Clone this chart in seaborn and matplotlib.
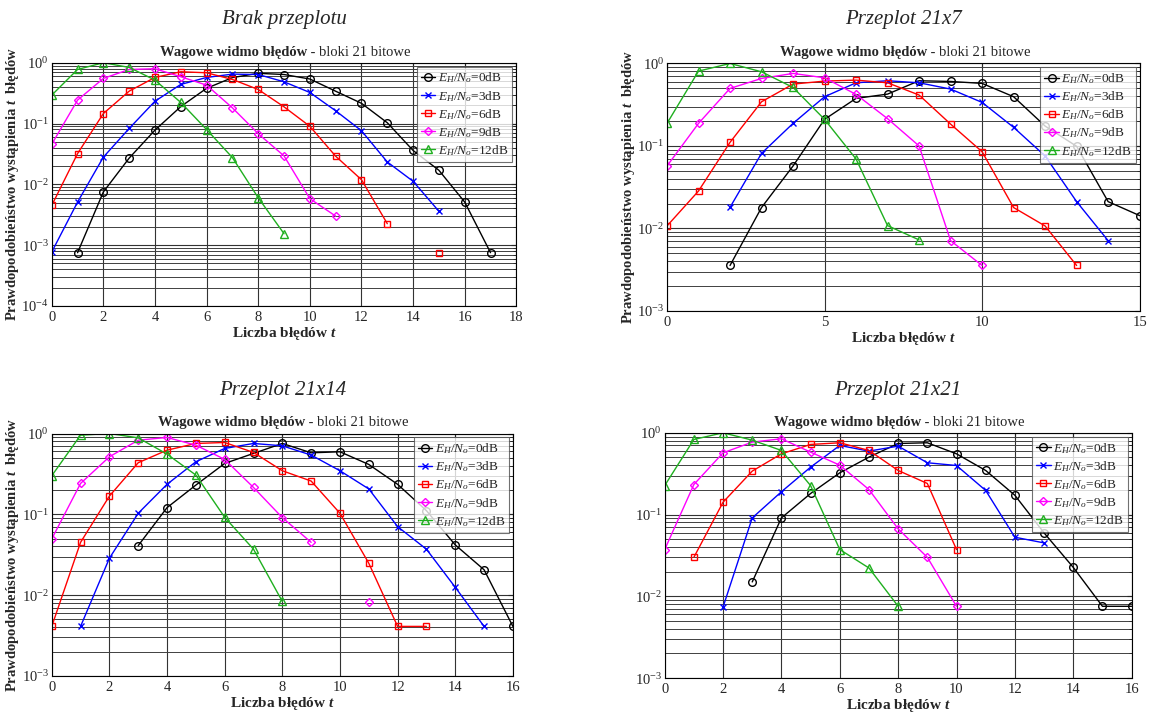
import numpy as np
import pandas as pd
import seaborn as sns
import matplotlib.pyplot as plt
from matplotlib.lines import Line2D

nan = np.nan

# SNR labels (E_H/N_o) used as series names
snr_labels = ['0dB', '3dB', '6dB', '9dB', '12dB']

# Brak przeplotu
p1_t = list(range(18))
p1_0dB = [nan, 7.5e-4, 7.5e-3, 0.027, 0.078, 0.19, 0.38, 0.57, 0.67, 0.64, 0.54, 0.34, 0.215, 0.103, 0.036, 0.017, 0.0051, 7.5e-4]
p1_3dB = [7.7e-4, 0.0051, 0.028, 0.083, 0.233, 0.44, 0.573, 0.65, 0.64, 0.486, 0.324, 0.162, 0.076, 0.0233, 0.0112, 0.0036, nan, nan]
p1_6dB = [0.0045, 0.032, 0.146, 0.341, 0.573, 0.711, 0.684, 0.531, 0.363, 0.188, 0.09, 0.029, 0.0119, 0.00225, nan, 7.5e-4, nan, nan]
p1_9dB = [0.0457, 0.243, 0.552, 0.776, 0.796, 0.588, 0.428, 0.181, 0.068, 0.0293, 0.0058, 0.003, nan, nan, nan, nan, nan, nan]
p1_12dB = [0.293, 0.776, 1.0, 0.838, 0.518, 0.222, 0.0796, 0.0275, 0.006, 0.00154, nan, nan, nan, nan, nan, nan, nan, nan]

# Przeplot 21x7
p2_t = list(range(16))
p2_0dB = [nan, nan, 0.00355, 0.0179, 0.0571, 0.21, 0.377, 0.425, 0.617, 0.605, 0.573, 0.395, 0.174, 0.099, 0.0211, 0.0143]
p2_3dB = [nan, nan, 0.018, 0.0813, 0.1876, 0.395, 0.583, 0.617, 0.583, 0.489, 0.337, 0.168, 0.0755, 0.0211, 0.0071, nan]
p2_6dB = [0.0107, 0.0284, 0.1105, 0.343, 0.562, 0.611, 0.628, 0.583, 0.414, 0.184, 0.085, 0.0179, 0.0107, 0.00355, nan, nan]
p2_9dB = [0.0571, 0.1876, 0.498, 0.658, 0.757, 0.67, 0.421, 0.214, 0.1, 0.0071, 0.00355, nan, nan, nan, nan, nan]
p2_12dB = [0.1876, 0.807, 1.0, 0.792, 0.512, 0.21, 0.0694, 0.0108, 0.00725, nan, nan, nan, nan, nan, nan, nan]

# Przeplot 21x14
p3_t = list(range(17))
p3_0dB = [nan, nan, nan, 0.041, 0.121, 0.23, 0.426, 0.567, 0.753, 0.577, 0.594, 0.414, 0.235, 0.111, 0.0418, 0.0206, 0.0041]
p3_3dB = [nan, 0.0041, 0.0286, 0.103, 0.235, 0.447, 0.653, 0.753, 0.704, 0.541, 0.346, 0.206, 0.0704, 0.037, 0.0125, 0.0041, nan]
p3_6dB = [0.0041, 0.045, 0.168, 0.435, 0.622, 0.753, 0.774, 0.583, 0.346, 0.258, 0.103, 0.0248, 0.0041, 0.0041, nan, nan, nan]
p3_9dB = [0.0496, 0.241, 0.515, 0.827, 0.893, 0.718, 0.478, 0.215, 0.091, 0.045, nan, 0.0082, nan, nan, nan, nan, nan]
p3_12dB = [0.3, 0.954, 1.0, 0.884, 0.556, 0.306, 0.0918, 0.037, 0.00835, nan, nan, nan, nan, nan, nan, nan, nan]

# Przeplot 21x21
p4_t = list(range(17))
p4_0dB = [nan, nan, nan, 0.015, 0.091, 0.181, 0.324, 0.504, 0.74, 0.755, 0.553, 0.346, 0.172, 0.0597, 0.0226, 0.00755, 0.00755]
p4_3dB = [nan, nan, 0.0074, 0.091, 0.19, 0.38, 0.7, 0.597, 0.687, 0.43, 0.398, 0.197, 0.0528, 0.045, nan, nan, nan]
p4_6dB = [nan, 0.03, 0.1416, 0.34, 0.553, 0.72, 0.755, 0.608, 0.346, 0.24, 0.0373, nan, nan, nan, nan, nan, nan]
p4_9dB = [0.0373, 0.233, 0.569, 0.769, 0.845, 0.58, 0.402, 0.202, 0.0668, 0.03, 0.00755, nan, nan, nan, nan, nan, nan]
p4_12dB = [0.226, 0.829, 1.0, 0.813, 0.608, 0.226, 0.0373, 0.0222, 0.00755, nan, nan, nan, nan, nan, nan, nan, nan]

colors = ['black', '#0000ff', '#ff0000', '#ff00ff', '#1faf1f']
markers = ['o', 'x', 's', 'D', '^']
msizes = [5.5, 5, 5, 4.5, 5.5]


def to_frame(t, series):
    # long-form table; a new segment starts after every gap so lines break there
    rows = []
    seg = 0
    for lab, vals in zip(snr_labels, series):
        seg += 1
        for ti, v in zip(t, vals):
            if np.isnan(v):
                seg += 1
                continue
            rows.append((ti, v, lab, seg))
    return pd.DataFrame(rows, columns=['t', 'p', 'snr', 'seg'])


sns.set_style('white')
plt.rcParams['font.family'] = ['Liberation Serif', 'DejaVu Serif']
plt.rcParams['mathtext.fontset'] = 'custom'
plt.rcParams['mathtext.rm'] = 'Liberation Serif'
plt.rcParams['mathtext.it'] = 'Liberation Serif:italic'
plt.rcParams['mathtext.bf'] = 'Liberation Serif:italic:bold'

fig = plt.figure(figsize=(11.5, 7.13), dpi=100)

panels = [
    ('Brak przeplotu', p1_t, [p1_0dB, p1_3dB, p1_6dB, p1_9dB, p1_12dB],
     [0.045, 0.571, 0.404, 0.341], (0, 18), np.arange(0, 19, 2), 1e-4, -0.066),
    ('Przeplot 21x7', p2_t, [p2_0dB, p2_3dB, p2_6dB, p2_9dB, p2_12dB],
     [0.580, 0.564, 0.411, 0.347], (0, 15), np.arange(0, 16, 5), 1e-3, -0.064),
    ('Przeplot 21x14', p3_t, [p3_0dB, p3_3dB, p3_6dB, p3_9dB, p3_12dB],
     [0.045, 0.052, 0.401, 0.340], (0, 16), np.arange(0, 17, 2), 1e-3, -0.066),
    ('Przeplot 21x21', p4_t, [p4_0dB, p4_3dB, p4_6dB, p4_9dB, p4_12dB],
     [0.578, 0.049, 0.406, 0.344], (0, 16), np.arange(0, 17, 2), 1e-3, None),
]

for title, t, series, rect, xlim, xticks, ymin, ylab_x in panels:
    ax = fig.add_axes(rect)
    ax.set_yscale('log')
    df = to_frame(t, series)
    for lab, c, m, ms in zip(snr_labels, colors, markers, msizes):
        sns.lineplot(data=df[df['snr'] == lab], x='t', y='p', units='seg',
                     estimator=None, color=c, marker=m, legend=False, ax=ax,
                     lw=1.0, ms=ms, mfc='none', mec=c, mew=1.0)
    ax.set_xlim(*xlim)
    ax.set_ylim(ymin, 1)
    ax.set_xticks(xticks)
    ax.grid(True, which='major', color='0.2', lw=0.8)
    ax.grid(True, which='minor', axis='y', color='0.25', lw=0.7)
    ax.tick_params(which='both', direction='in', top=True, right=True, labelsize=10.5)
    ax.tick_params(axis='y', which='major', pad=2)
    for s in ax.spines.values():
        s.set_color('black')
        s.set_linewidth(0.8)

    ax.set_xlabel(r'Liczba błędów $\mathbf{t}$', fontweight='bold', fontsize=11, labelpad=1)
    if ylab_x is not None:
        ax.set_ylabel(r'Prawdopodobieństwo wystąpienia $\mathbf{t}$  błędów',
                      fontweight='bold', fontsize=10.5)
        ax.yaxis.set_label_coords(ylab_x, 0.5)
    else:
        ax.set_ylabel('')

    ax.annotate('Wagowe widmo błędów', xy=(0.55, 1), xycoords='axes fraction',
                xytext=(0, 3), textcoords='offset points', ha='right', va='bottom',
                fontweight='bold', fontsize=10.5)
    ax.annotate(' - bloki 21 bitowe', xy=(0.55, 1), xycoords='axes fraction',
                xytext=(0, 3), textcoords='offset points', ha='left', va='bottom',
                fontsize=10.5)

    cx = rect[0] + rect[2] / 2
    ty = 0.972 if rect[1] > 0.5 else 0.453
    fig.text(cx, ty, title, ha='center', va='center', style='italic', fontsize=15)

    handles = [Line2D([], [], color=c, marker=m, ms=ms, mfc='none', mew=1.0, lw=1.0)
               for c, m, ms in zip(colors, markers, msizes)]
    labels = [r'$E_H/N_o$=' + s for s in snr_labels]
    leg = ax.legend(handles, labels, loc='upper right', fontsize=9.5, frameon=True,
                    fancybox=False, borderaxespad=0.3, handlelength=1.1,
                    handletextpad=0.2, labelspacing=0.25, borderpad=0.3)
    leg.get_frame().set_edgecolor('0.3')
    leg.get_frame().set_linewidth(0.8)

fig.savefig('out.png', dpi=100)
